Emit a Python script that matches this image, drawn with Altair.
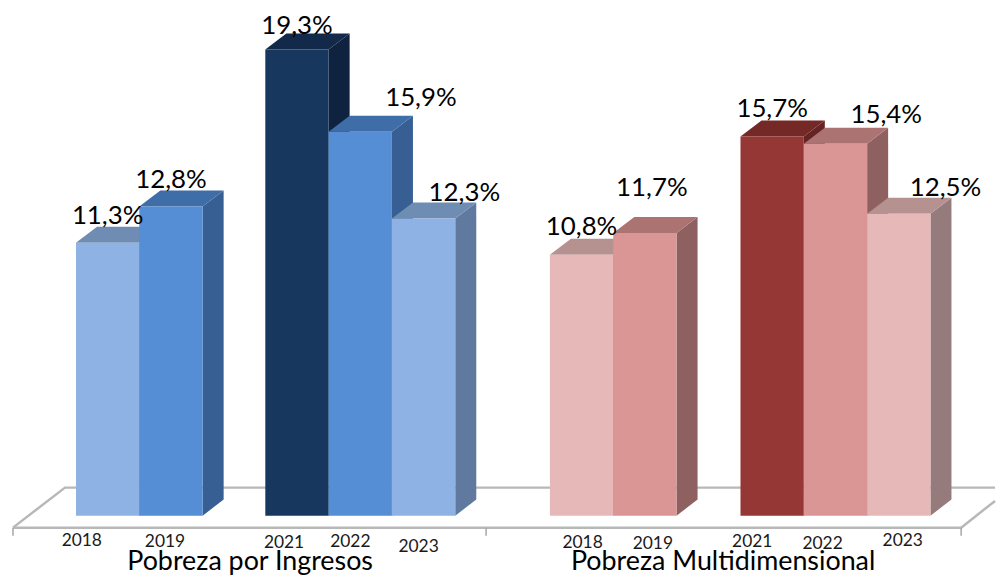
import altair as alt
import pandas as pd

# ---- data ----
years = ["2018", "2019", "2021", "2022", "2023", "2018", "2019", "2021", "2022", "2023"]
values = [11.3, 12.8, 19.3, 15.9, 12.3, 10.8, 11.7, 15.7, 15.4, 12.5]
labels = ["11,3%", "12,8%", "19,3%", "15,9%", "12,3%", "10,8%", "11,7%", "15,7%", "15,4%", "12,5%"]
groups = ["Pobreza por Ingresos", "Pobreza Multidimensional"]

# ---- layout ----
slots = [0, 1, 2.99, 3.99, 4.99, 7.485, 8.485, 10.495, 11.495, 12.495]
front = ["#8DB2E3", "#558ED5", "#17375E", "#558ED5", "#8DB2E3",
         "#E6B9B8", "#D99694", "#953735", "#D99694", "#E6B9B8"]
top = ["#6F8CB3", "#3F6DA8", "#12294A", "#3F6DA8", "#6F8CB3",
       "#B59290", "#AB7472", "#752927", "#AB7472", "#B59290"]
side = ["#5F7A9E", "#375F93", "#0F2340", "#375F93", "#5F7A9E",
        "#957B7B", "#8E6160", "#652422", "#8E6160", "#957B7B"]
label_off = [(0, -27), (0, -27), (0, -24), (61, -34), (41, -26),
             (0, -28), (7, -45), (0, -28), (51, -29), (47, -26)]
year_off = [(-26, 27), (-6, 28), (-13, 29), (-10, 28), (-5, 33),
            (1, 29), (8, 30), (-20, 28), (-13, 30), (4, 27)]
DX, DY = 0.332, 0.663      # depth of the fake 3-D, in x and y units
FONT = "Lato"

xs = alt.Scale(domain=[-1.058, 14.515], nice=False, zero=False)
ys = alt.Scale(domain=[-2.10, 20.95], nice=False, zero=False)
X = lambda f: alt.X(f, type="quantitative", scale=xs, axis=None)
Y = lambda f: alt.Y(f, type="quantitative", scale=ys, axis=None)
FILL = alt.Color("c:N", scale=None, legend=None)

rows_front, rows_side, rows_top = [], [], []
for i, (s, v) in enumerate(zip(slots, values)):
    rows_front.append(dict(x=s, x2=s + 1, y=0, y2=v, c=front[i]))
    rows_side += [dict(b=i, x=s + 1, y=0, y2=v, c=side[i]),
                  dict(b=i, x=s + 1 + DX, y=DY, y2=v + DY, c=side[i])]
    rows_top += [dict(b=i, y=v, x=s, x2=s + 1, c=top[i]),
                 dict(b=i, y=v + DY, x=s + DX, x2=s + 1 + DX, c=top[i])]

floor = pd.DataFrame({"x": [-0.995, 13.98, 14.515], "y": [-0.497, -0.497, 0.61]})
floor2 = pd.DataFrame({"x": [-0.995, -0.174, 14.515], "y": [-0.497, 1.16, 1.16]})
ticks = pd.DataFrame({"x": [-0.995, 6.477, 13.98], "y": [-0.497] * 3, "y2": [-0.83] * 3})

LINE = "#B8B8B8"
layers = [
    alt.Chart(floor2).mark_line(color=LINE, strokeWidth=2.5).encode(x=X("x"), y=Y("y"), order="x:Q"),
    alt.Chart(floor).mark_line(color=LINE, strokeWidth=2.5).encode(x=X("x"), y=Y("y"), order="x:Q"),
    alt.Chart(ticks).mark_rule(color="#A6A6A6", strokeWidth=1.5).encode(x=X("x"), y=Y("y"), y2="y2"),
    alt.Chart(pd.DataFrame(rows_side)).mark_area(orient="vertical").encode(
        x=X("x"), y=Y("y"), y2="y2", color=FILL, detail="b:N"),
    alt.Chart(pd.DataFrame(rows_top)).mark_area(orient="horizontal").encode(
        y=Y("y"), x=X("x"), x2="x2", color=FILL, detail="b:N"),
    alt.Chart(pd.DataFrame(rows_front)).mark_rect().encode(
        x=X("x"), x2="x2", y=Y("y"), y2="y2", color=FILL),
]

for i, (s, v) in enumerate(zip(slots, values)):
    d = pd.DataFrame({"x": [s + 0.5], "y": [v], "t": [labels[i]]})
    layers.append(alt.Chart(d).mark_text(
        font=FONT, fontSize=26, color="#000000", baseline="middle", align="center",
        dx=label_off[i][0], dy=label_off[i][1]).encode(x=X("x"), y=Y("y"), text="t:N"))
    d = pd.DataFrame({"x": [s + 0.5], "y": [0], "t": [years[i]]})
    layers.append(alt.Chart(d).mark_text(
        font=FONT, fontSize=17.5, color="#1A1A1A", baseline="middle", align="center",
        dx=year_off[i][0], dy=year_off[i][1] - 1).encode(x=X("x"), y=Y("y"), text="t:N"))

title_df = pd.DataFrame({"x": [2.75, 10.22], "y": [0, 0], "t": groups})
layers.append(alt.Chart(title_df).mark_text(
    font=FONT, fontSize=27, color="#000000", baseline="middle", align="center", dy=47
).encode(x=X("x"), y=Y("y"), text="t:N"))

chart = alt.layer(*layers).properties(
    width=992, height=560, padding=0, background="white"
).configure_view(stroke=None)

chart.save("out.html", embed_options={"renderer": "svg", "actions": False})
